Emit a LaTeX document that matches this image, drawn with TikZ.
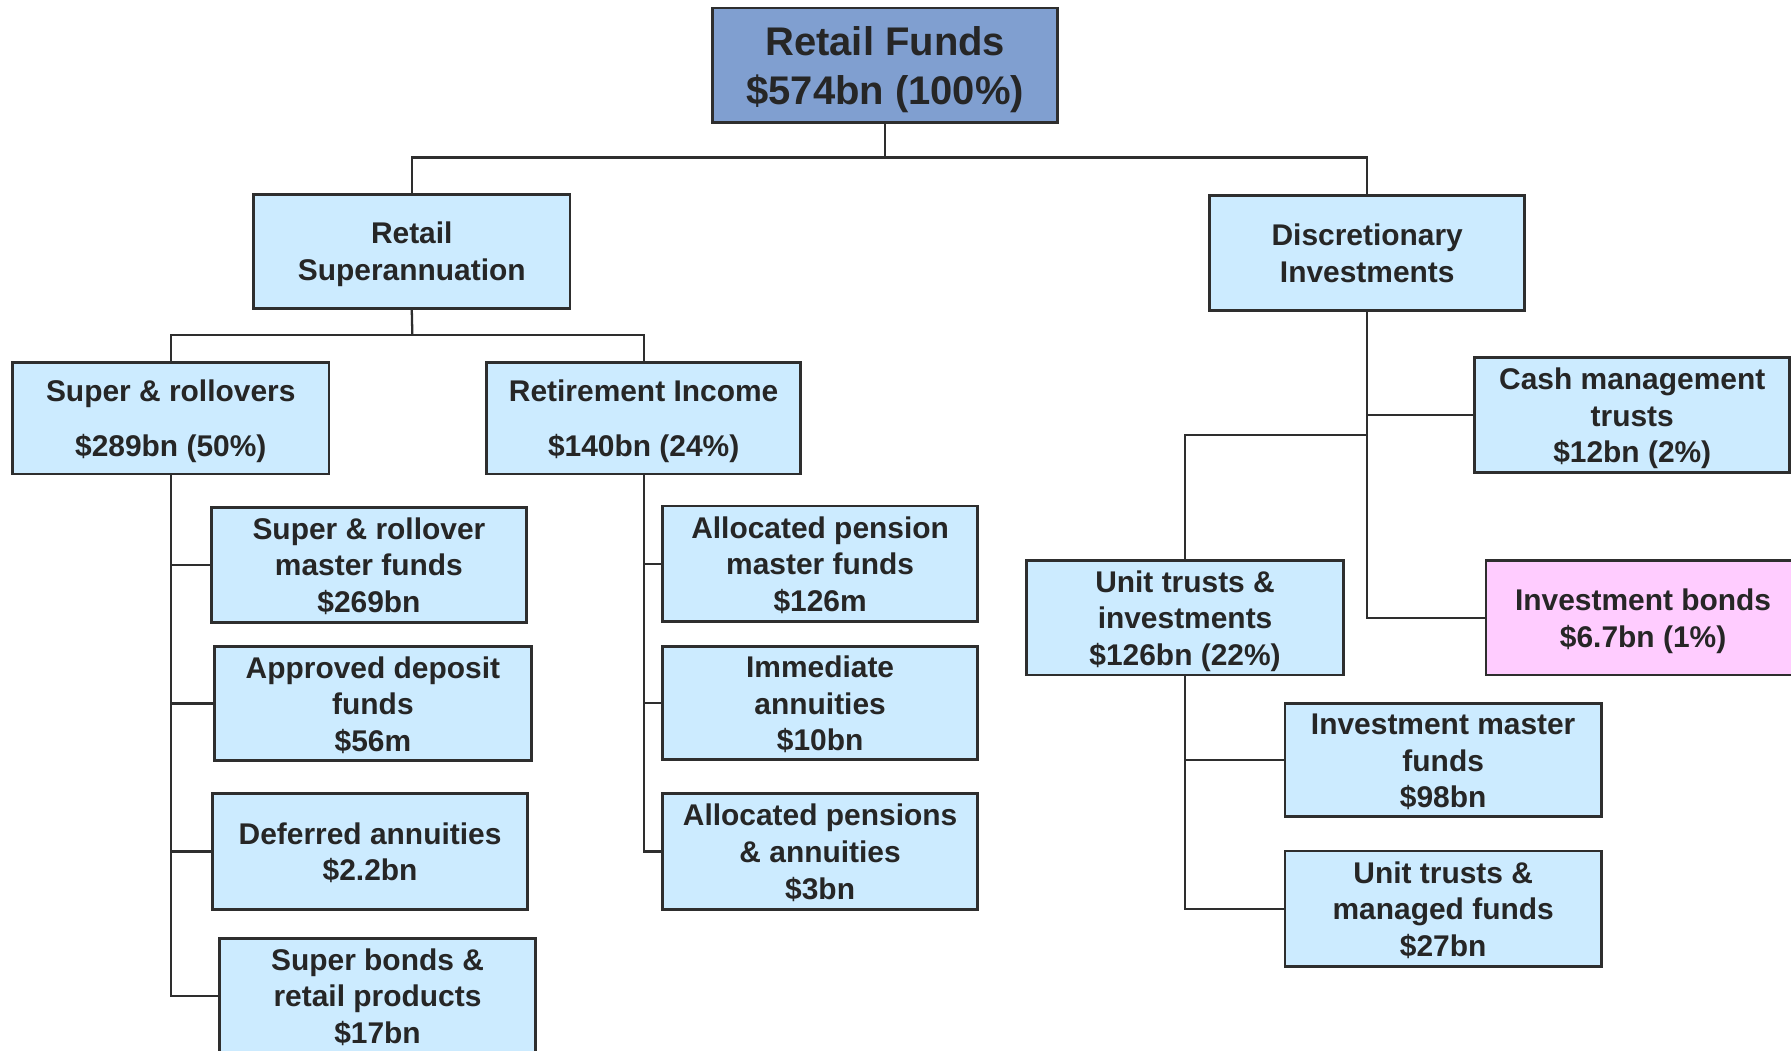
\documentclass[tikz,border=0pt]{standalone}
\usepackage{fontspec}
\setmainfont{Liberation Sans}
\definecolor{boxblue}{HTML}{CCEBFF}
\definecolor{topblue}{HTML}{809FD0}
\definecolor{boxpink}{HTML}{FFCCFF}
\definecolor{edge}{HTML}{2E2E2E}
\definecolor{txt}{HTML}{262626}
\newcommand\bxtext[2][1.6pt]{\raisebox{-#1}[\height][\depth]{\begin{tabular}{@{}c@{}}#2\end{tabular}}}
\begin{document}
\begin{tikzpicture}[x=0.5pt,y=-0.5pt,
  box/.style={draw=edge,line width=1.25pt,fill=boxblue,inner sep=0pt,align=center,
    font=\fontsize{13.1}{16}\selectfont\bfseries,text=txt},
  topbox/.style={box,fill=topblue,font=\fontsize{17.5}{21.5}\selectfont\bfseries},
  pinkbox/.style={box,fill=boxpink},
  conn/.style={draw=edge,line width=1pt}]
\useasboundingbox (0,0) rectangle (1568,920);
\clip (0,0) rectangle (1568,920);
\fill[white] (0,0) rectangle (1568,920);

\node[topbox,minimum width=151pt,minimum height=50pt] (top) at (775,57) {\bxtext[2.2pt]{Retail Funds\\\$574bn (100\%)}};

\node[box,minimum width=138.5pt,minimum height=50pt] (rs) at (360.5,220) {\bxtext{Retail\\Superannuation}};
\node[box,minimum width=138pt,minimum height=50.5pt] (di) at (1197,221.5) {\bxtext{Discretionary\\Investments}};

\node[box,minimum width=138.5pt,minimum height=49pt] (sr) at (149.5,366) {\bxtext{Super \& rollovers\\[8pt]\$289bn (50\%)}};
\node[box,minimum width=137.5pt,minimum height=49pt] (ri) at (563.5,366) {\bxtext{Retirement Income\\[8pt]\$140bn (24\%)}};

\node[box,minimum width=138pt,minimum height=50.5pt] (a1) at (323,494.5) {\bxtext{Super \& rollover\\master funds\\\$269bn}};
\node[box,minimum width=138.5pt,minimum height=50pt] (a2) at (326.5,616) {\bxtext{Approved deposit\\funds\\\$56m}};
\node[box,minimum width=138pt,minimum height=50.5pt] (a3) at (324,745.5) {\bxtext{Deferred annuities\\\$2.2bn}};
\node[box,minimum width=138.5pt,minimum height=50pt] (a4) at (330.5,872) {\bxtext{Super bonds \&\\retail products\\\$17bn}};

\node[box,minimum width=138pt,minimum height=50.5pt] (b1) at (718,493.5) {\bxtext{Allocated pension\\master funds\\\$126m}};
\node[box,minimum width=138pt,minimum height=49.5pt] (b2) at (718,615.5) {\bxtext{Immediate\\annuities\\\$10bn}};
\node[box,minimum width=138pt,minimum height=50.5pt] (b3) at (718,745.5) {\bxtext{Allocated pensions\\\& annuities\\\$3bn}};

\node[box,minimum width=138pt,minimum height=50.5pt] (cm) at (1429,363.5) {\bxtext{Cash management\\trusts\\\$12bn (2\%)}};
\node[box,minimum width=138.5pt,minimum height=50pt] (ut) at (1037.5,541) {\bxtext{Unit trusts \&\\investments\\\$126bn (22\%)}};
\node[pinkbox,minimum width=137.5pt,minimum height=50pt] (ib) at (1438.5,541) {\bxtext{Investment bonds\\\$6.7bn (1\%)}};
\node[box,minimum width=138.5pt,minimum height=49.5pt] (c1) at (1263.5,665.5) {\bxtext{Investment master\\funds\\\$98bn}};
\node[box,minimum width=138.5pt,minimum height=50.5pt] (c2) at (1263.5,795.5) {\bxtext{Unit trusts \&\\managed funds\\\$27bn}};

% connectors
\coordinate (bus0) at (775,138);
\coordinate (bus1) at (361,293);
\coordinate (bus2) at (1197,381);
\draw[conn] (top.south) -- (bus0);
\draw[conn] (bus0) -| (rs.north);
\draw[conn] (bus0) -| (di.north);

\draw[conn] (rs.south) -- (bus1);
\draw[conn] (bus1) -| (sr.north);
\draw[conn] (bus1) -| (ri.north);

\draw[conn] (sr.south) |- (a4.west);
\draw[conn] (sr.south |- a1.west) -- (a1.west);
\draw[conn] (sr.south |- a2.west) -- (a2.west);
\draw[conn] (sr.south |- a3.west) -- (a3.west);

\draw[conn] (ri.south) |- (b3.west);
\draw[conn] (ri.south |- b1.west) -- (b1.west);
\draw[conn] (ri.south |- b2.west) -- (b2.west);

\draw[conn] (di.south) |- (ib.west);
\draw[conn] (di.south |- cm.west) -- (cm.west);
\draw[conn] (bus2) -| (ut.north);

\draw[conn] (ut.south) |- (c2.west);
\draw[conn] (ut.south |- c1.west) -- (c1.west);
\end{tikzpicture}
\end{document}
